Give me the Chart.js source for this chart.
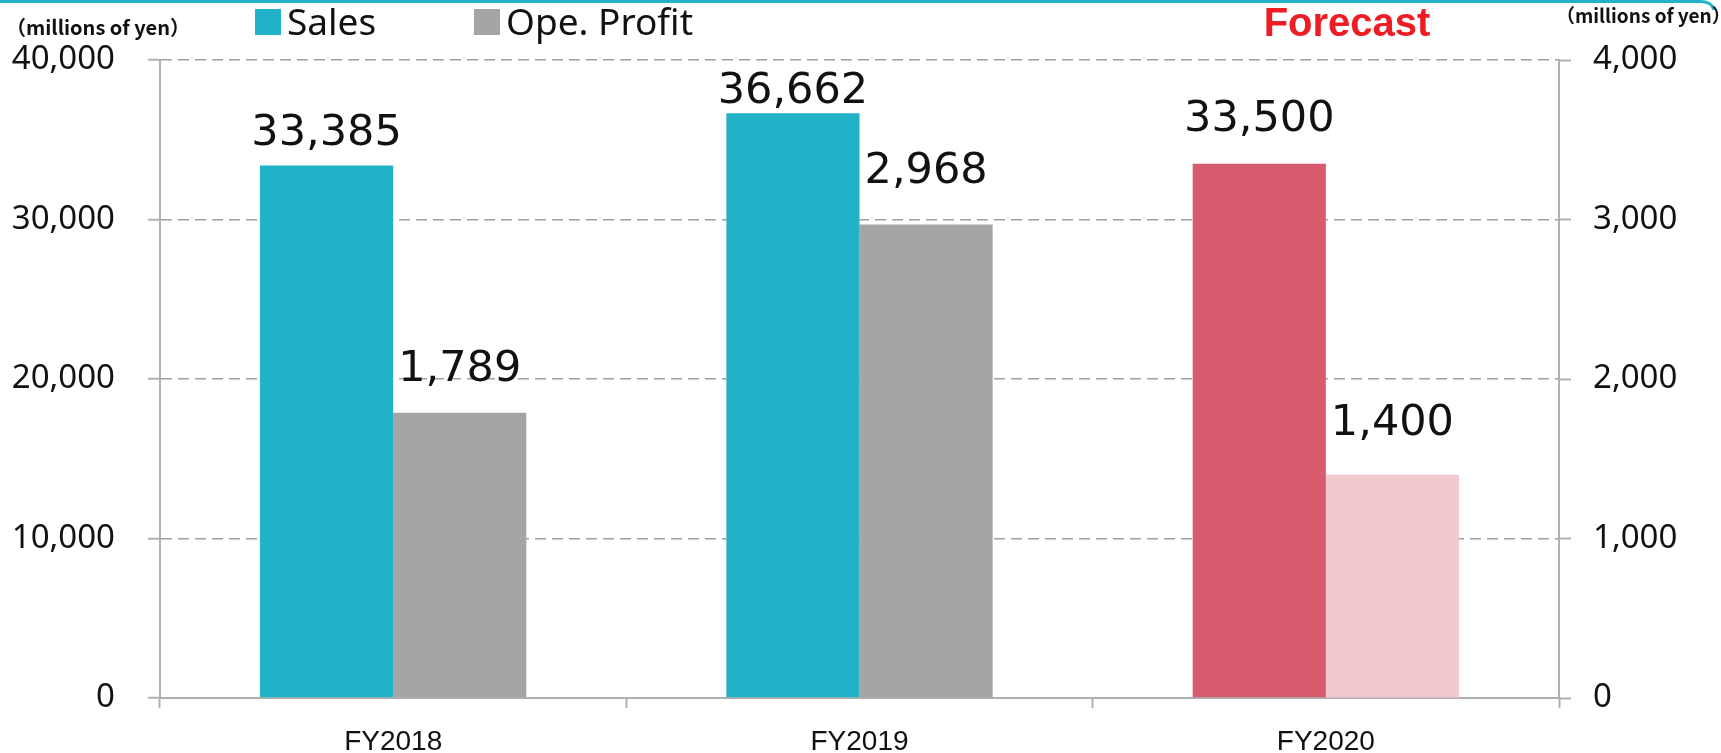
<!DOCTYPE html>
<html>
<head>
<meta charset="utf-8">
<script src="https://cdn.jsdelivr.net/npm/chart.js@4/dist/chart.umd.min.js"></script>
<style>
  html, body { margin: 0; padding: 0; background: #fff; }
  #wrap { width: 1721px; height: 753px; position: relative; }
</style>
</head>
<body>
<div id="wrap"><canvas id="sales_chart" width="1721" height="753"></canvas></div>
<script>
const categories = ["FY2018", "FY2019", "FY2020"];
const salesValues = [33385, 36662, 33500];
const profitValues = [1789, 2968, 1400];
const salesTicks = [0, 10000, 20000, 30000, 40000];
const profitTicks = [0, 1000, 2000, 3000, 4000];

// last year is the forecast, drawn in reds
const salesColors = ["#21B2C7", "#21B2C7", "#D85A6D"];
const profitColors = ["#A5A5A5", "#A5A5A5", "#F2C9CF"];
// how far each value label sits above its bar (px, to text centre)
const salesLabelLift = [32, 21, 44];
const profitLabelLift = [43, 53, 51];

const fmt = (v) => v.toLocaleString("en-US");

const labelsPlugin = {
  id: "valueLabels",
  afterDatasetsDraw(chart) {
    const ctx = chart.ctx;
    ctx.save();
    ctx.font = '43px "DejaVu Sans"';
    ctx.fillStyle = "#111";
    ctx.textAlign = "center";
    ctx.textBaseline = "middle";
    chart.data.datasets.forEach((ds, i) => {
      const lifts = i === 0 ? salesLabelLift : profitLabelLift;
      chart.getDatasetMeta(i).data.forEach((bar, j) => {
        ctx.fillText(fmt(ds.data[j]), bar.x, bar.y - lifts[j]);
      });
    });
    ctx.restore();
  },
  afterDraw(chart) {
    const ctx = chart.ctx;
    ctx.save();
    // thin teal rule across the top
    ctx.strokeStyle = "#21B2C7";
    ctx.lineWidth = 3;
    ctx.beginPath();
    ctx.moveTo(0, 1.5);
    ctx.lineTo(1700, 1.5);
    ctx.quadraticCurveTo(1712, 1.5, 1714, 10);
    ctx.stroke();

    // legend
    ctx.textBaseline = "middle";
    ctx.textAlign = "left";
    ctx.font = '37px "Noto Sans"';
    ctx.fillStyle = salesColors[0];
    ctx.fillRect(255, 9, 26, 26);
    ctx.fillStyle = "#111";
    ctx.fillText("Sales", 287, 24);
    ctx.fillStyle = profitColors[0];
    ctx.fillRect(474, 9, 26, 26);
    ctx.fillStyle = "#111";
    ctx.fillText("Ope. Profit", 506, 24);

    // units
    ctx.font = 'bold 20px "Noto Sans CJK JP"';
    ctx.fillText("（millions of yen）", 6, 27);
    ctx.font = 'bold 19px "Noto Sans CJK JP"';
    ctx.fillText("（millions of yen）", 1556, 16);

    ctx.font = 'bold 40px "Liberation Sans"';
    ctx.fillStyle = "#EE1D23";
    ctx.textAlign = "center";
    ctx.fillText("Forecast", 1347, 25);
    ctx.restore();
  },
};

const ctx = document.getElementById("sales_chart").getContext("2d");
const chart = new Chart(ctx, {
  type: "bar",
  data: {
    labels: categories,
    datasets: [
      {
        label: "Sales",
        data: salesValues,
        backgroundColor: salesColors,
        yAxisID: "y",
        categoryPercentage: 0.571,
        barPercentage: 1,
      },
      {
        label: "Ope. Profit",
        data: profitValues,
        backgroundColor: profitColors,
        yAxisID: "y1",
        categoryPercentage: 0.571,
        barPercentage: 1,
      },
    ],
  },
  options: {
    responsive: false,
    animation: false,
    layout: { padding: { left: 0, right: 0, top: 60, bottom: 0 } },
    plugins: {
      legend: { display: false },
      tooltip: { enabled: false },
    },
    scales: {
      x: {
        offset: true,
        afterFit: (axis) => {
          axis.height = 55;
        },
        grid: {
          offset: true,
          drawOnChartArea: false,
          tickLength: 10,
          tickColor: "#B0B0B0",
          tickWidth: 2,
        },
        border: { color: "#B0B0B0", width: 2 },
        ticks: {
          color: "#111",
          font: { family: "Liberation Sans", size: 28, lineHeight: 1 },
          padding: 20,
        },
      },
      y: {
        position: "left",
        min: 0,
        max: 40000,
        afterBuildTicks: (axis) => {
          axis.ticks = salesTicks.map((v) => ({ value: v }));
        },
        afterFit: (axis) => {
          axis.width = 160;
        },
        grid: {
          color: "#A0A0A0",
          lineWidth: 1.5,
          borderDash: [11, 6],
          tickLength: 12,
          tickColor: "#B0B0B0",
          tickWidth: 2,
        },
        border: { color: "#B0B0B0", width: 2, dash: [11, 6] },
        ticks: {
          color: "#111",
          font: { family: "Noto Sans", size: 33 },
          padding: 33,
          callback: (v) => fmt(v),
        },
      },
      y1: {
        position: "right",
        min: 0,
        max: 4000,
        afterBuildTicks: (axis) => {
          axis.ticks = profitTicks.map((v) => ({ value: v }));
        },
        afterFit: (axis) => {
          axis.width = 162;
        },
        grid: {
          drawOnChartArea: false,
          tickLength: 12,
          tickColor: "#B0B0B0",
          tickWidth: 2,
        },
        border: { color: "#B0B0B0", width: 2 },
        ticks: {
          color: "#111",
          font: { family: "Noto Sans", size: 33 },
          padding: 22,
          callback: (v) => fmt(v),
        },
      },
    },
  },
  plugins: [labelsPlugin],
});
</script>
</body>
</html>
